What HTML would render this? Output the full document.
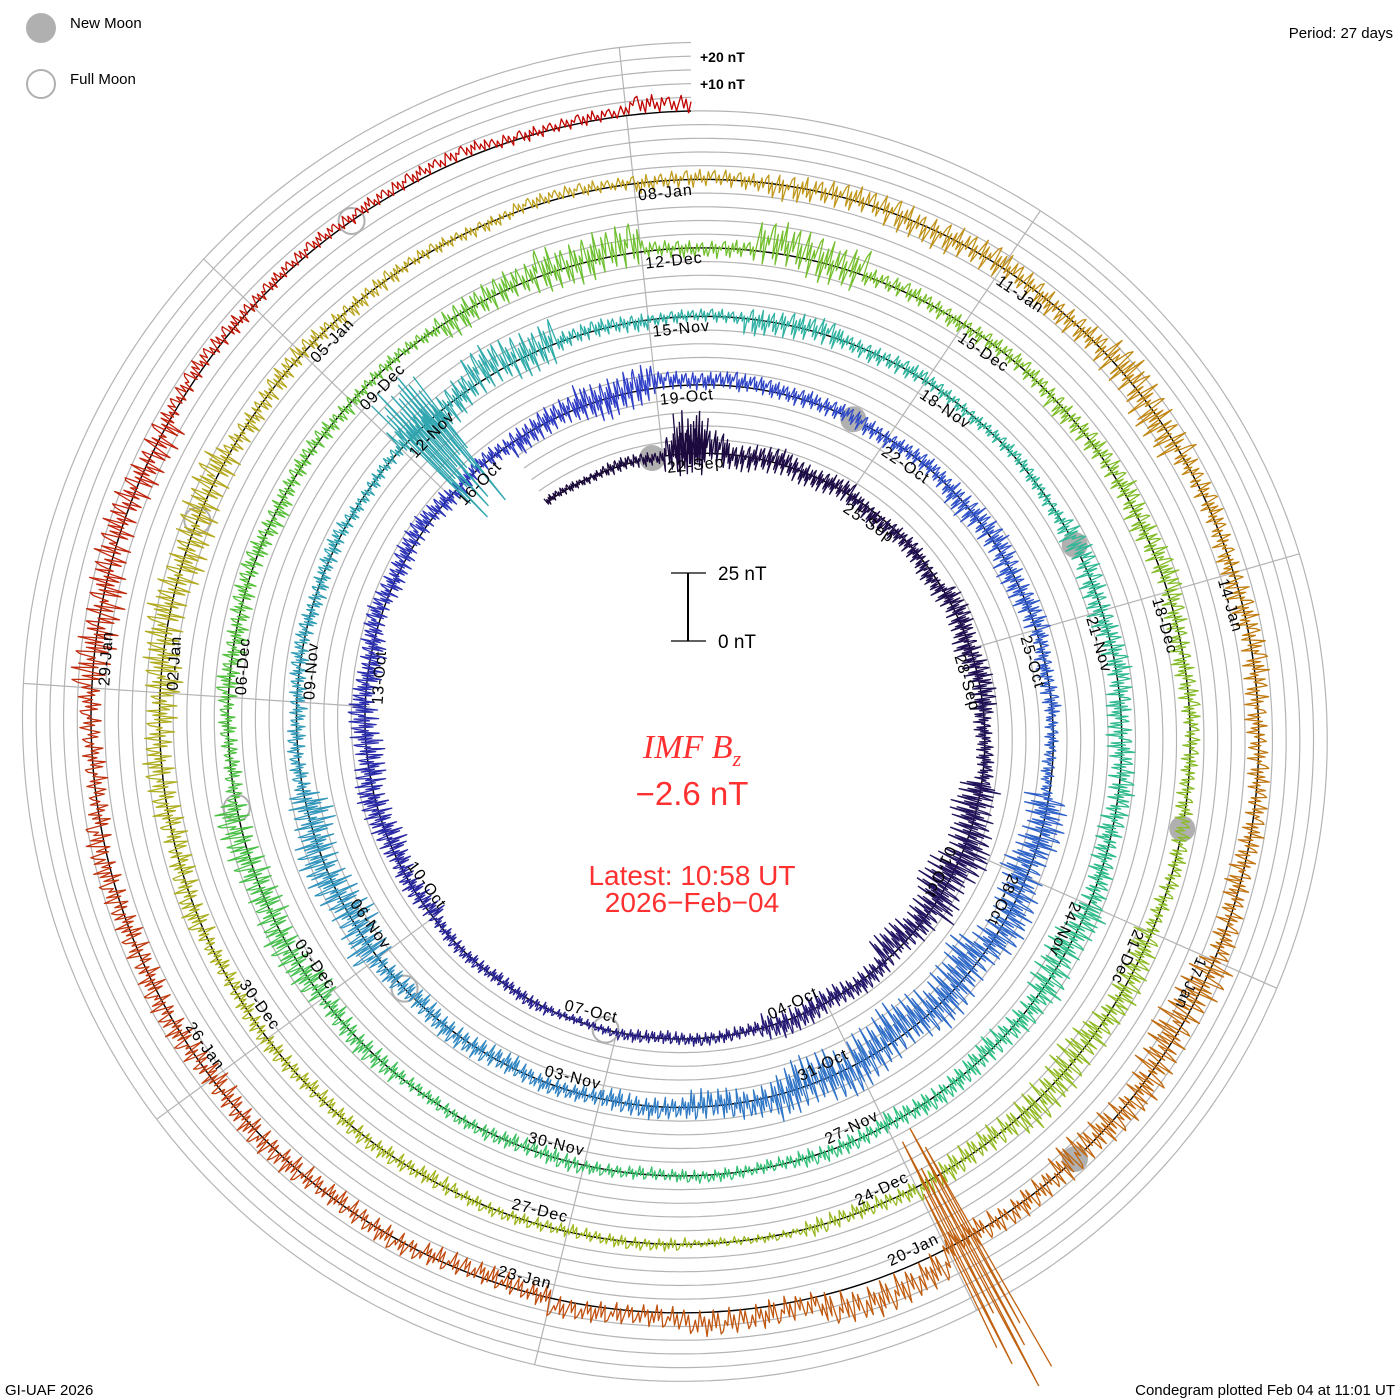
<!DOCTYPE html>
<html><head><meta charset="utf-8"><title>IMF Bz Condegram</title>
<style>
html,body{margin:0;padding:0;background:#fff;}
svg{display:block;font-family:"Liberation Sans",sans-serif;}
</style></head>
<body>
<svg id="chart" width="1400" height="1400" viewBox="0 0 1400 1400" xmlns="http://www.w3.org/2000/svg">
  <rect x="0" y="0" width="1400" height="1400" fill="#fff"/>
  <g id="grid"></g>
  <g id="spokes"></g>
  <g id="baseline"></g>
  <g id="moons"></g>
  <g id="series"></g>
  <g id="labels"></g>

  <g>
    <circle cx="41" cy="28" r="15" fill="#b0b0b0"/>
    <text x="70" y="28" font-size="15" fill="#000">New Moon</text>
    <circle cx="41" cy="84" r="14" fill="none" stroke="#b0b0b0" stroke-width="2"/>
    <text x="70" y="84" font-size="15" fill="#000">Full Moon</text>
  </g>
  <text x="1393" y="38" font-size="15" text-anchor="end">Period: 27 days</text>
  <text x="700" y="62" font-size="14" font-weight="bold">+20 nT</text>
  <text x="700" y="89" font-size="14" font-weight="bold">+10 nT</text>

  <g>
    <line x1="688" y1="573" x2="688" y2="641" stroke="#000" stroke-width="2"/>
    <line x1="671" y1="573" x2="706" y2="573" stroke="#000" stroke-width="1.2"/>
    <line x1="671" y1="641" x2="706" y2="641" stroke="#000" stroke-width="1.2"/>
    <text x="718" y="580" font-size="19">25 nT</text>
    <text x="718" y="648" font-size="19">0 nT</text>
  </g>
  <text x="692" y="758" font-size="34" fill="#ff3030" text-anchor="middle" font-style="italic" font-family="Liberation Serif, serif">IMF B<tspan font-size="22" dy="8">z</tspan></text>
  <text x="692" y="805" font-size="33" fill="#ff3030" text-anchor="middle">−2.6 nT</text>
  <text x="692" y="885" font-size="28" fill="#ff3030" text-anchor="middle">Latest: 10:58 UT</text>
  <text x="692" y="912" font-size="28" fill="#ff3030" text-anchor="middle">2026−Feb−04</text>
  <text x="5" y="1395" font-size="15">GI-UAF 2026</text>
  <text x="1395" y="1395" font-size="15" text-anchor="end">Condegram plotted Feb 04 at 11:01 UT</text>
</svg>
<script>
// Daily Bz level (nT) and half-range (nT), one value per day starting 2025-09-20
const bzMid = [
0,0,2,0,0,-1,-1,0,0,0,0,
0,-2,0,0,0,0,0,0,0,-1,0,0,0,1,1,0,0,1,2,1,0,0,0,0,0,-1,-1,0,-2,-2,0,
0,0,0,0,0,0,0,0,0,0,0,0,2,0,0,0,0,0,0,0,0,0,0,0,0,0,0,0,0,0,
0,0,0,1,0,0,0,0,0,0,2,0,2,0,0,0,1,0,0,0,0,0,0,0,0,0,0,0,0,0,0,
0,0,0,0,0,0,1,0,0,0,0,0,0,0,0,0,-1,0,0,6,3,2,-1,0,0,0,1,0,0,0,1,
1,2,1,3];
const bzAmp = [
2,3,8,6,5,4,4,6,6,4,10,
12,8,5,6,3,3,2,3,3,5,7,7,6,5,5,4,6,9,4,4,4,4,6,6,4,3,10,10,12,12,12,
7,5,4,5,5,10,10,4,4,4,3,8,10,4,3,6,4,3,3,6,6,6,6,9,6,5,4,3,3,4,
3,5,8,8,4,5,5,4,3,7,10,4,10,4,4,5,6,5,4,4,7,9,6,4,2,3,3,4,4,4,6,
7,9,9,5,4,3,3,4,6,7,6,9,5,6,5,6,10,8,6,8,6,5,5,5,6,6,6,5,9,8,4,
3,3,3,4];
// short-lived large excursions (days since 2025-09-22 00:00)
const spikeT = [0.2, 51.1, 119.75];
const spikeDur = [0.5, 0.5, 0.25];
const spikeMin = [-8, -40, -45];
const spikeMax = [16, 20, 60];
// moon phases (days since 2025-09-22 00:00)
const newMoonT = [-0.17, 29.52, 59.28, 89.07, 118.83];
const fullMoonT = [15.16, 44.55, 73.97, 103.42, 132.92];
// color by time
const colorT = [-2,10,20,27,39,45,54,66,75,81,96,108,114,123,129,135.5];
const colorHex = ["#1a0838","#241560","#2a2aa8","#3040c8","#3070c8","#3490c0","#30b0a8","#30c080","#50c040","#70c030","#a0b820","#c0a020","#c08010","#c05010","#c03010","#c00000"];

const NS="http://www.w3.org/2000/svg";
const cx=692, cy=729, R=618, D=68.5, T=135.457, PX=2.74, T0=-2;
function ang(t){return (t-T)/27*2*Math.PI;}
function rb(t){return R-(T-t)*D/27;}
function pt(t,bz){const a=ang(t), r=rb(t)+bz*PX; return [cx+r*Math.sin(a), cy-r*Math.cos(a)];}
function hex2rgb(h){return [1,3,5].map(i=>parseInt(h.substr(i,2),16));}
function colorAt(t){
  for(let i=0;i<colorT.length-1;i++){
    if(t<=colorT[i+1]){const f=Math.max(0,(t-colorT[i])/(colorT[i+1]-colorT[i]));
      const a=hex2rgb(colorHex[i]), b=hex2rgb(colorHex[i+1]);
      return "rgb("+a.map((v,k)=>Math.round(v+(b[k]-v)*f)).join(",")+")";}
  }
  return colorHex[colorHex.length-1];
}
function mk(tag,attrs,parent){const e=document.createElementNS(NS,tag);for(const k in attrs)e.setAttribute(k,attrs[k]);parent.appendChild(e);return e;}
function spiralPath(off){
  let d="";for(let t=T0;t<=T+1e-9;t+=0.05){const p=pt(t,off);d+=(d?"L":"M")+p[0].toFixed(1)+","+p[1].toFixed(1);}
  return d;
}
const gG=document.getElementById('grid');
for(let k=1;k<=5;k++){
  const p=mk('path',{d:spiralPath(k*5),fill:'none',stroke:'#b4b4b4','stroke-width':1.2},gG);
  
  
}
const gS=document.getElementById('spokes');
for(let j=0;j<9;j++){
  const t0=j*3; let tl=t0; while(tl+27<=T) tl+=27;
  const a=ang(t0), r1=rb(t0)-5, r2=rb(tl)+25*PX;
  const l=mk('line',{x1:cx+r1*Math.sin(a),y1:cy-r1*Math.cos(a),x2:cx+r2*Math.sin(a),y2:cy-r2*Math.cos(a),stroke:'#b4b4b4','stroke-width':1.2},gS);
  
  
}
const bl=mk('path',{d:spiralPath(0),fill:'none',stroke:'#000','stroke-width':1.4},document.getElementById('baseline'));


const gM=document.getElementById('moons');
newMoonT.forEach(t=>{const p=pt(t,0);const c=mk('circle',{cx:p[0],cy:p[1],r:13,fill:'#b0b0b0'},gM);
  
  });
fullMoonT.forEach(t=>{const p=pt(t,0);const c=mk('circle',{cx:p[0],cy:p[1],r:13,fill:'none',stroke:'#b0b0b0','stroke-width':2},gM);
  
  });
// series (render texture pattern — visual only)
const gD=document.getElementById('series');
const pattern=[0.9,-0.7,0.4,-1,0.6,-0.3,1,-0.5,0.2,-0.9,0.7,-0.2,0.5,0.8,-0.6,0.3,-0.8,0.1,0.95,-0.4,0.6,-1,0.3,-0.1,0.7];
const wander=[0.3,0.5,0.6,0.4,0.1,-0.2,-0.45,-0.6,-0.5,-0.3,0,0.2];
const dt=1/60; let seg=[], k=0;
function flush(t){ if(seg.length>1){const pl=mk('polyline',{points:seg.map(p=>p[0].toFixed(1)+","+p[1].toFixed(1)).join(" "),fill:'none',stroke:colorAt(t),'stroke-width':1.3,'stroke-linejoin':'round'},gD);
  
  }
  seg=seg.length?[seg[seg.length-1]]:[]; }
for(let t=T0;t<=T;t+=dt,k++){
  const i=Math.min(bzMid.length-1,Math.floor(t-T0));
  const w=wander[Math.floor(k/6)%wander.length];
  const v=bzMid[i]+bzAmp[i]*(0.3*w+0.8*pattern[k%pattern.length]);
  seg.push(pt(t,v));
  if(seg.length>=20) flush(t);
}
flush(T);
spikeT.forEach((ts,s)=>{
  const pts=[];let n=0;
  for(let t=ts;t<=ts+spikeDur[s];t+=0.02,n++){
    const f=Math.abs(pattern[n%pattern.length]);
    pts.push(pt(t,(n%2?spikeMin[s]:spikeMax[s])*(0.35+0.65*f)));
  }
  const pl=mk('polyline',{points:pts.map(p=>p[0].toFixed(1)+","+p[1].toFixed(1)).join(" "),fill:'none',stroke:colorAt(ts),'stroke-width':1.3},gD);
  
  
});
const gL=document.getElementById('labels');
const mon=["Jan","Feb","Mar","Apr","May","Jun","Jul","Aug","Sep","Oct","Nov","Dec"];
const base=Date.UTC(2025,8,22);
for(let t0=0;t0<=129;t0+=3){
  const d=new Date(base+t0*86400000);
  const txt=String(d.getUTCDate()).padStart(2,"0")+"-"+mon[d.getUTCMonth()];
  let deg=((ang(t0)*180/Math.PI)%360+360)%360;
  const r=rb(t0)-13, a=ang(t0)+3/r;
  const x=cx+r*Math.sin(a), y=cy-r*Math.cos(a);
  const flip=deg>130&&deg<260;
  const tx=mk('text',{x:x,y:y,'font-size':16,'letter-spacing':'1','dominant-baseline':'middle','text-anchor':flip?'end':'start',transform:'rotate('+(flip?deg-180:deg).toFixed(1)+' '+x.toFixed(1)+' '+y.toFixed(1)+')'},gL);
  tx.textContent=txt;
  
  
}
</script>
</body></html>
